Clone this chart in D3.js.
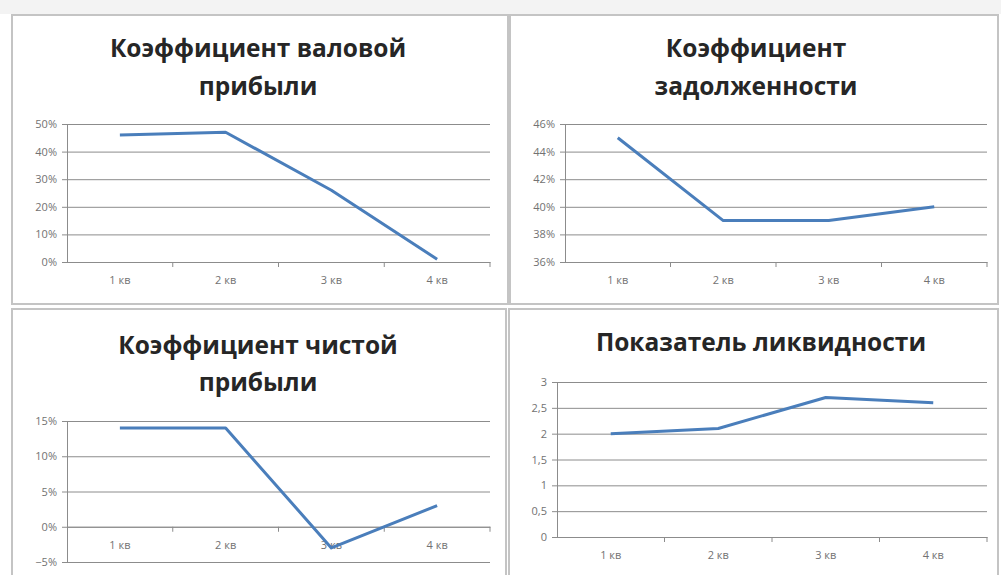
<!DOCTYPE html>
<html>
<head>
<meta charset="utf-8">
<script src="https://cdn.jsdelivr.net/npm/d3@7"></script>
<style>
  body { margin: 0; background: #fff; }
  svg { display: block; }
  .grid line { stroke: #8c8c8c; stroke-width: 1; }
  .axis path, .axis line { stroke: #8c8c8c; }
  .axis text { fill: #727272; font-family: "Open Sans", sans-serif; font-size: 11px; }
  .title { font-family: "Open Sans", sans-serif; font-weight: bold; font-size: 24.5px; fill: #262626; }
</style>
</head>
<body>
<svg width="1001" height="575"></svg>
<script>
// Quarters on the X axis
const quarters = ['1 кв', '2 кв', '3 кв', '4 кв']

// Series values
const grossMargin = [0.46, 0.47, 0.26, 0.01]
const debtRatio = [0.45, 0.39, 0.39, 0.40]
const netMargin = [0.14, 0.14, -0.03, 0.03]
const liquidity = [2.0, 2.1, 2.7, 2.6]

// Y axis tick values
const grossTicks = [0, 0.1, 0.2, 0.3, 0.4, 0.5]
const debtTicks = [0.36, 0.38, 0.40, 0.42, 0.44, 0.46]
const netTicks = [-0.05, 0, 0.05, 0.10, 0.15]
const liquidityTicks = [0, 0.5, 1, 1.5, 2, 2.5, 3]

const pct = d3.format('.0%')
const comma = d => String(d).replace('.', ',')

const svg = d3.select('svg')

// faint spreadsheet band on top
svg.append('rect')
  .attr('x', 0).attr('y', 0).attr('width', 1001).attr('height', 14)
  .attr('fill', '#f3f3f3')

// Charts: panel box, plot area and titles
const charts = [
  { title: ['Коэффициент валовой', 'прибыли'], titleX: 258, titleY: [57, 95], values: grossMargin, ticks: grossTicks, fmt: pct,
    box: [12, 15, 496, 289], plot: { left: 67, right: 490, top: 124, bottom: 262 } },
  { title: ['Коэффициент', 'задолженности'], titleX: 756, titleY: [57, 95], values: debtRatio, ticks: debtTicks, fmt: pct,
    box: [510, 15, 488, 289], plot: { left: 565, right: 987, top: 124, bottom: 262 } },
  { title: ['Коэффициент чистой', 'прибыли'], titleX: 258, titleY: [354, 391], values: netMargin, ticks: netTicks, fmt: pct,
    box: [12, 309, 494, 280], plot: { left: 67, right: 490, top: 421, bottom: 562 } },
  { title: ['Показатель ликвидности'], titleX: 761, titleY: [351], values: liquidity, ticks: liquidityTicks, fmt: comma,
    box: [509, 309, 489, 280], plot: { left: 557, right: 987, top: 382, bottom: 537 } }
]

charts.forEach(drawChart)

function drawChart(c) {
  const [bx, by, bw, bh] = c.box
  const p = c.plot

  // Panel border
  svg.append('rect')
    .attr('x', bx).attr('y', by).attr('width', bw).attr('height', bh)
    .attr('fill', '#fff')
    .attr('stroke', '#c4c4c4')
    .attr('stroke-width', 2)

  // Title lines
  c.title.forEach((t, i) => {
    svg.append('text')
      .attr('class', 'title')
      .attr('x', c.titleX)
      .attr('y', c.titleY[i])
      .attr('text-anchor', 'middle')
      .text(t)
  })

  const yScale = d3.scaleLinear()
    .domain(d3.extent(c.ticks))
    .range([p.bottom, p.top])

  const xScale = d3.scaleBand()
    .domain(quarters)
    .range([p.left, p.right])

  // Horizontal grid + Y axis
  svg.append('g')
    .attr('class', 'grid')
    .attr('transform', `translate(${p.left}, 0)`)
    .call(d3.axisLeft(yScale).tickValues(c.ticks).tickSize(-(p.right - p.left)).tickFormat(''))
    .call(g => g.select('.domain').remove())

  svg.append('g')
    .attr('class', 'axis')
    .attr('transform', `translate(${p.left}, 0)`)
    .call(d3.axisLeft(yScale).tickValues(c.ticks).tickSize(5).tickPadding(5).tickFormat(c.fmt))

  // X axis sits on zero (or the bottom of the range)
  const zeroY = yScale(Math.max(0, yScale.domain()[0]))
  const xAxis = svg.append('g')
    .attr('class', 'axis')
    .attr('transform', `translate(0, ${zeroY})`)
    .call(d3.axisBottom(xScale).tickSize(0).tickPadding(14))

  // tick marks at band edges, like the spreadsheet chart
  xAxis.selectAll('.edge')
    .data(quarters.slice(1).concat(['end']))
    .enter()
    .append('line')
    .attr('x1', (q, i) => i < 3 ? xScale(q) : p.right)
    .attr('x2', (q, i) => i < 3 ? xScale(q) : p.right)
    .attr('y1', 0)
    .attr('y2', 5)
    .attr('stroke', '#8c8c8c')

  // Data line
  const line = d3.line()
    .x((d, i) => xScale(quarters[i]) + xScale.bandwidth() / 2)
    .y(d => yScale(d))

  svg.append('path')
    .datum(c.values)
    .attr('d', line)
    .attr('fill', 'none')
    .attr('stroke', '#4a7ebb')
    .attr('stroke-width', 3)
    .attr('stroke-linejoin', 'round')
}
</script>
</body>
</html>
